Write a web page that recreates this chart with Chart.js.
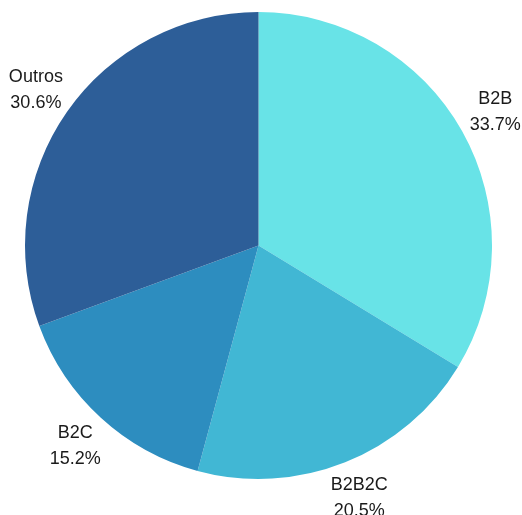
<!DOCTYPE html>
<html>
<head>
<meta charset="utf-8">
<style>
  html, body { margin: 0; padding: 0; background: #ffffff; }
  #wrap { width: 522px; height: 515px; }
</style>
<script src="https://cdn.jsdelivr.net/npm/chart.js@4/dist/chart.umd.min.js"></script>
</head>
<body>
<div id="wrap"><canvas id="chart" width="522" height="515"></canvas></div>
<script>
// Share of segments (%)
const categories = ['B2B', 'B2B2C', 'B2C', 'Outros'];
const shares = [33.7, 20.5, 15.2, 30.6];
const sliceColors = ['#68e3e7', '#41b7d4', '#2d8dbf', '#2d5e98'];

// Draws "name" and "xx.x%" outside each slice along its bisector
const outsideLabels = {
  id: 'outsideLabels',
  afterDatasetsDraw(chart) {
    const ctx = chart.ctx;
    const meta = chart.getDatasetMeta(0);
    const data = chart.data.datasets[0].data;
    ctx.save();
    ctx.font = '18px "Liberation Sans", Arial, sans-serif';
    ctx.fillStyle = '#1a1a1a';
    ctx.textAlign = 'center';
    ctx.textBaseline = 'middle';
    meta.data.forEach((arc, i) => {
      const p = arc.getProps(['x', 'y', 'startAngle', 'endAngle', 'outerRadius'], true);
      const mid = (p.startAngle + p.endAngle) / 2;
      const r = p.outerRadius + 38;
      const cx = p.x + Math.cos(mid) * r;
      const cy = p.y + Math.sin(mid) * r;
      ctx.fillText(chart.data.labels[i], cx, cy - 13);
      ctx.fillText(data[i].toFixed(1) + '%', cx, cy + 13);
    });
    ctx.restore();
  }
};

new Chart(document.getElementById('chart'), {
  type: 'pie',
  data: {
    labels: categories,
    datasets: [{
      data: shares,
      backgroundColor: sliceColors,
      borderWidth: 0
    }]
  },
  options: {
    responsive: false,
    animation: false,
    layout: { padding: { top: 12, bottom: 36, left: 25, right: 30 } },
    plugins: {
      legend: { display: false },
      tooltip: { enabled: false }
    }
  },
  plugins: [outsideLabels]
});
</script>
</body>
</html>
